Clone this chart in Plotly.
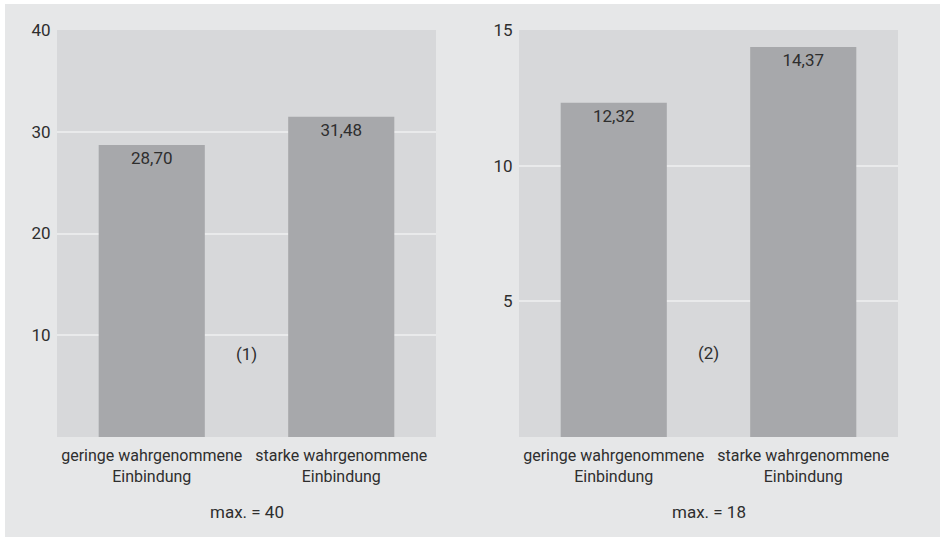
import plotly.graph_objects as go

W, H = 940, 538

categories = ["geringe wahrgenommene<br>Einbindung", "starke wahrgenommene<br>Einbindung"]
values_1 = [28.70, 31.48]
values_2 = [12.32, 14.37]
ticks_1 = [10, 20, 30, 40]
ticks_2 = [5, 10, 15]
range_1 = [0, 40]
range_2 = [0, 15]
panel_labels = ["(1)", "(2)"]
panel_label_y = [8.2, 3.1]
max_labels = ["max. = 40", "max. = 18"]

FONT = "Roboto, Open Sans, sans-serif"
FS = 17
FS_CAT = 16
TXT = "#2e2e2e"
OUTER = "#e6e7e8"
PLOT_BG = "#d7d8da"
BAR = "#a7a8ab"
GRID = "#e9eaeb"

fig = go.Figure()

for i, vals in enumerate([values_1, values_2]):
    fig.add_trace(go.Bar(
        x=categories, y=vals,
        xaxis="x" if i == 0 else "x2",
        yaxis="y" if i == 0 else "y2",
        marker=dict(color=BAR, line=dict(width=0)),
        width=0.56,
        texttemplate="%{y:.2f}",
        textposition="inside",
        insidetextanchor="end",
        textfont=dict(family=FONT, size=FS, color=TXT),
        showlegend=False,
        hoverinfo="skip",
    ))

def px_x(p):
    return p / W

def px_y(p):
    return 1 - p / H

top, bottom = 30, 437
common_x = dict(showgrid=False, zeroline=False, showline=False, ticks="",
                tickangle=0,
                tickfont=dict(family=FONT, size=FS_CAT, color=TXT),
                fixedrange=True, automargin=False, ticklabelstandoff=7)
common_y = dict(showgrid=True, gridcolor=GRID, gridwidth=2, zeroline=False,
                ticks="outside", ticklen=2, tickcolor="rgba(0,0,0,0)",
                tickfont=dict(family=FONT, size=FS, color=TXT), automargin=False,
                fixedrange=True)
fig.update_layout(
    width=W, height=H,
    margin=dict(l=0, r=0, t=0, b=0),
    paper_bgcolor=OUTER,
    plot_bgcolor=PLOT_BG,
    separators=",.",
    font=dict(family=FONT, size=FS, color=TXT),
    xaxis=dict(domain=[px_x(57), px_x(436)], **common_x),
    xaxis2=dict(domain=[px_x(519), px_x(898)], anchor="y2", **common_x),
    yaxis=dict(domain=[px_y(bottom), px_y(top)], range=range_1, tickvals=ticks_1, **common_y),
    yaxis2=dict(domain=[px_y(bottom), px_y(top)], range=range_2, tickvals=ticks_2,
                anchor="x2", **common_y),
    shapes=[
        dict(type="rect", xref="paper", yref="paper", x0=0, x1=px_x(5), y0=0, y1=1,
             fillcolor="white", line=dict(width=0), layer="below"),
        dict(type="rect", xref="paper", yref="paper", x0=0, x1=1, y0=px_y(4), y1=1,
             fillcolor="white", line=dict(width=0), layer="below"),
        dict(type="rect", xref="paper", yref="paper", x0=0, x1=1, y0=0, y1=px_y(537),
             fillcolor="white", line=dict(width=0), layer="below"),
    ],
)

annotations = []
for i in range(2):
    xr = "x" if i == 0 else "x2"
    yr = "y" if i == 0 else "y2"
    annotations.append(dict(x=0.5, y=panel_label_y[i], xref=xr, yref=yr,
                            text=panel_labels[i], showarrow=False,
                            yanchor="middle",
                            font=dict(family=FONT, size=FS, color=TXT)))
    annotations.append(dict(x=0.5, y=px_y(512), xref=xr + " domain", yref="paper",
                            text=max_labels[i], showarrow=False,
                            xanchor="center", yanchor="middle",
                            font=dict(family=FONT, size=FS, color=TXT)))
fig.update_layout(annotations=annotations)

fig.write_html("out.html")
